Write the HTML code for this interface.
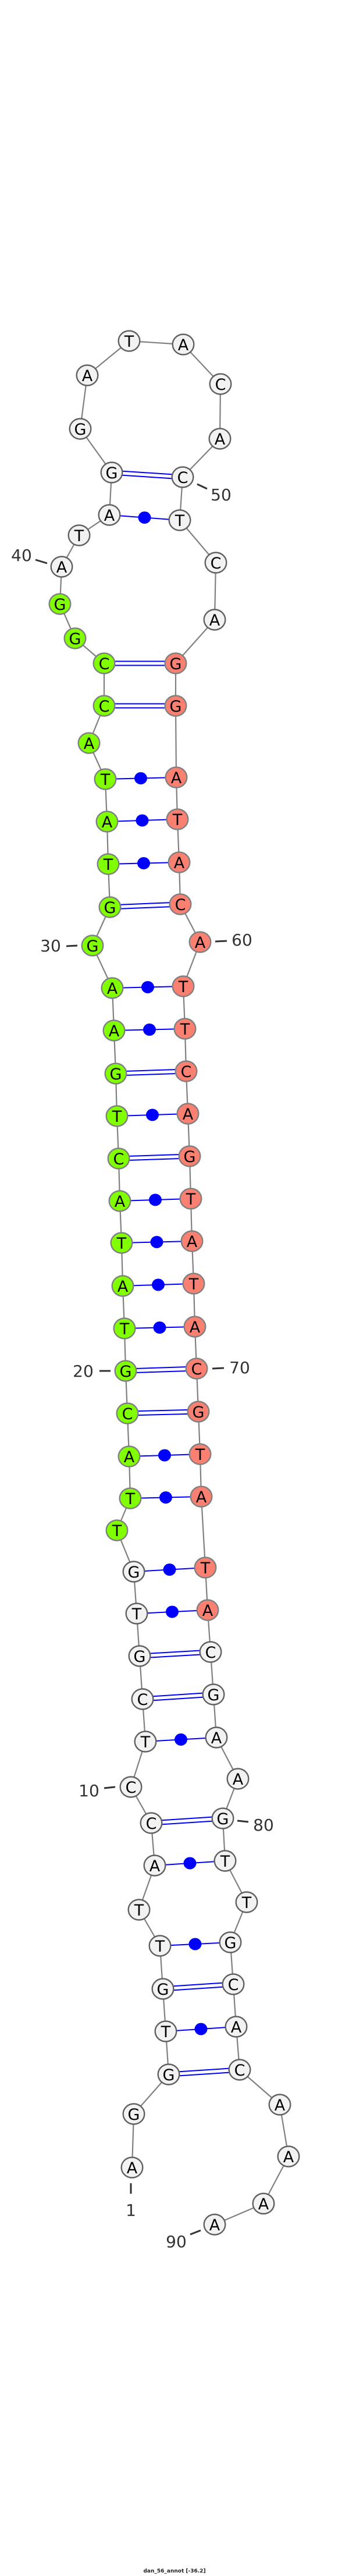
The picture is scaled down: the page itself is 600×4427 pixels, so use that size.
<!DOCTYPE html>
<html><head><meta charset="utf-8"><style>
html,body{margin:0;padding:0;background:#fff;}
svg{display:block;}
</style></head><body>
<svg id="s" width="600" height="4427" viewBox="0 0 600 4427" xmlns="http://www.w3.org/2000/svg">
<g id="bb" stroke="#808080" stroke-width="2.2" fill="none"></g>
<g id="bp" stroke="#0000ff" stroke-width="2" fill="#0000ff"></g>
<g id="nd"></g>
<g font-family="DejaVu Sans, Liberation Sans, sans-serif" font-size="28" fill="#333">
<text x="225" y="3808" text-anchor="middle">1</text>
<line x1="225" y1="3752" x2="225" y2="3770" stroke="#333" stroke-width="3"/>
<text x="153" y="3087" text-anchor="middle">10</text>
<line x1="179" y1="3073" x2="198" y2="3071" stroke="#333" stroke-width="3"/>
<text x="143" y="2366" text-anchor="middle">20</text>
<line x1="171" y1="2356" x2="190" y2="2356" stroke="#333" stroke-width="3"/>
<text x="87" y="1635" text-anchor="middle">30</text>
<line x1="114" y1="1626" x2="133" y2="1625" stroke="#333" stroke-width="3"/>
<text x="37" y="964" text-anchor="middle">40</text>
<line x1="61" y1="962" x2="81" y2="968" stroke="#333" stroke-width="3"/>
<text x="380" y="860" text-anchor="middle">50</text>
<line x1="339" y1="832" x2="356" y2="840" stroke="#333" stroke-width="3"/>
<text x="416" y="1625" text-anchor="middle">60</text>
<line x1="370" y1="1618" x2="390" y2="1617" stroke="#333" stroke-width="3"/>
<text x="412" y="2360" text-anchor="middle">70</text>
<line x1="365" y1="2352" x2="385" y2="2351" stroke="#333" stroke-width="3"/>
<text x="453" y="3146" text-anchor="middle">80</text>
<line x1="408" y1="3129" x2="427" y2="3131" stroke="#333" stroke-width="3"/>
<text x="303" y="3862" text-anchor="middle">90</text>
<line x1="327" y1="3840" x2="345" y2="3833" stroke="#333" stroke-width="3"/>
</g>
<text x="300" y="4421" text-anchor="middle" font-family="DejaVu Sans, Liberation Sans, sans-serif" font-size="9" font-weight="bold" fill="#222">dan_56_annot [-36.2]</text>
</svg>
<script>
var N=[
["A",227,3725],["G",230,3633],["G",290,3565],["T",285,3491],["G",280,3418],["T",275,3344],["T",239,3282],["A",266,3206],["C",260,3133],["C",225,3071],
["T",250,2993],["C",245,2920],["G",240,2846],["T",235,2773],["G",230,2701],["T",201,2630],["T",224,2575],["A",222,2503],["C",219,2429],["G",216,2356],
["T",214,2283],["A",211,2210],["T",209,2136],["A",206,2064],["C",204,1991],["T",201,1918],["G",199,1845],["A",196,1771],["A",193,1698],["G",159,1625],
["G",189,1559],["T",186,1485],["A",184,1412],["T",181,1339],["A",153,1277],["C",179,1213],["C",179,1140],["G",129,1097],["G",103,1038],["A",106,974],
["T",136,920],["A",188,885],["G",192,812],["G",138,737],["A",150,645],["T",222,586],["A",315,592],["C",379,660],["A",378,754],["C",314,820],
["T",309,894],["C",371,967],["A",369,1065],["G",302,1140],["G",302,1213],["A",303,1336],["T",305,1408],["A",308,1482],["C",310,1554],["A",344,1619],
["T",315,1695],["T",318,1768],["C",320,1841],["A",323,1914],["G",326,1987],["T",328,2060],["A",330,2133],["T",333,2206],["A",335,2280],["C",338,2352],
["G",341,2426],["T",344,2499],["A",346,2572],["T",353,2694],["A",357,2767],["C",362,2839],["G",367,2912],["A",372,2986],["A",409,3057],["G",383,3125],
["T",387,3198],["T",424,3269],["G",396,3338],["C",401,3410],["A",406,3483],["C",412,3557],["A",481,3617],["A",496,3706],["A",453,3787],["A",369,3823]];
var P=[[3,86],[4,85],[5,84],[6,83],[8,81],[9,80],[11,78],[12,77],[13,76],[14,75],[15,74],[17,73],[18,72],[19,71],[20,70],[21,69],[22,68],[23,67],[24,66],[25,65],[26,64],[27,63],[28,62],[29,61],[31,59],[32,58],[33,57],[34,56],[36,55],[37,54],[42,51],[43,50]];
var NS="http://www.w3.org/2000/svg";
function el(t,a,p){var e=document.createElementNS(NS,t);for(var k in a)e.setAttribute(k,a[k]);p.appendChild(e);return e;}
var bb=document.getElementById("bb"),bp=document.getElementById("bp"),nd=document.getElementById("nd");
for(var i=0;i<N.length-1;i++)el("line",{x1:N[i][1],y1:N[i][2],x2:N[i+1][1],y2:N[i+1][2]},bb);
P.forEach(function(p){var a=N[p[0]-1],b=N[p[1]-1];var s=a[0]+b[0];
 if(s=="GC"||s=="CG"){var dx=b[1]-a[1],dy=b[2]-a[2],L=Math.sqrt(dx*dx+dy*dy),nx=-dy/L*3.5,ny=dx/L*3.5;
  el("line",{x1:a[1]+nx,y1:a[2]+ny,x2:b[1]+nx,y2:b[2]+ny},bp);el("line",{x1:a[1]-nx,y1:a[2]-ny,x2:b[1]-nx,y2:b[2]-ny},bp);}
 else{el("line",{x1:a[1],y1:a[2],x2:b[1],y2:b[2]},bp);el("ellipse",{cx:(a[1]+b[1])/2,cy:(a[2]+b[2])/2,rx:11,ry:10.5,stroke:"none"},bp);}
});
N.forEach(function(n,i){var k=i+1;var f="#f2f2f2",st="#606060";
 if(k>=16&&k<=39){f="#7fff00";st="#808080";} else if(k>=54&&k<=75){f="#fa8072";st="#808080";}
 el("ellipse",{cx:n[1],cy:n[2],rx:18.3,ry:17.5,fill:f,stroke:st,"stroke-width":2.4},nd);
 var t=el("text",{x:n[1],y:n[2]+10,"text-anchor":"middle","font-family":"DejaVu Sans, Liberation Sans, sans-serif","font-size":27,fill:"#000"},nd);t.textContent=n[0];});
</script>
</body></html>
